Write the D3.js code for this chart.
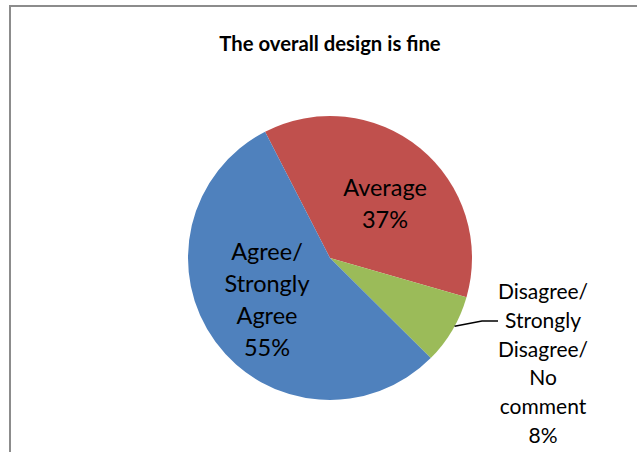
<!DOCTYPE html>
<html><head><meta charset="utf-8">
<script src="https://cdn.jsdelivr.net/npm/d3@7"></script>
<style>body{margin:0;background:#fff}svg{display:block}</style>
</head><body>
<svg id="c" width="637" height="452"></svg>
<script>
const title = "The overall design is fine";
const categories = ["Average", "Disagree/Strongly Disagree/No comment", "Agree/Strongly Agree"];
const values = [37, 8, 55];
const colors = ["#c0504d", "#9bbb59", "#4f81bd"];
const labelLines = [["Average","37%"],["Disagree/","Strongly","Disagree/","No","comment","8%"],["Agree/","Strongly","Agree","55%"]];

const svg = d3.select("#c");
const font = "Lato, 'Open Sans', sans-serif";
svg.append("rect").attr("x",10).attr("y",6).attr("width",700).attr("height",600)
  .attr("fill","#fff").attr("stroke","#8c8c8c").attr("stroke-width",2);

svg.append("text").attr("x",330).attr("y",51).attr("text-anchor","middle")
  .attr("font-family",font).attr("font-weight","bold").attr("font-size",20.3).attr("fill","#000").text(title);

const cx=330, cy=258, r=142;
const start = -27.2*Math.PI/180;
const pie = d3.pie().sort(null).value(d=>d).startAngle(start).endAngle(start+2*Math.PI);
const arcs = pie(values);
const arc = d3.arc().innerRadius(0).outerRadius(r);
const g = svg.append("g").attr("transform",`translate(${cx},${cy})`);
g.selectAll("path").data(arcs).join("path").attr("d",arc).attr("fill",(d,i)=>colors[i]);

// labels
const pos = [{x:385,y:188,lh:32,size:23.5},{x:543,y:292,lh:28.7,size:21},{x:267,y:252,lh:32,size:23.5}];
labelLines.forEach((lines,i)=>{
  const p = pos[i];
  const t = svg.append("text").attr("text-anchor","middle").attr("font-family",font)
    .attr("font-size",p.size).attr("fill","#000");
  lines.forEach((l,j)=>{
    t.append("tspan").attr("x",p.x).attr("y",p.y+j*p.lh).attr("dy","0.35em").text(l);
  });
});

// leader line for small slice
const a = arcs[1];
const mid = (a.startAngle+a.endAngle)/2;
const ex = cx + r*Math.sin(mid-0.03), ey = cy - r*Math.cos(mid-0.03);
svg.append("polyline").attr("points",`${ex},${ey} 482,321 498,321`)
  .attr("fill","none").attr("stroke","#000").attr("stroke-width",1.5);
</script>
</body></html>
